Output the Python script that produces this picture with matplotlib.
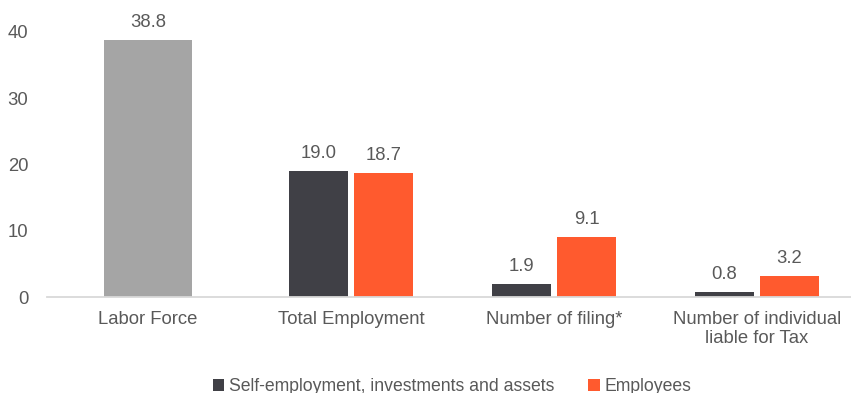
import matplotlib.pyplot as plt
import numpy as np

plt.rcParams["font.family"] = ["Liberation Sans", "DejaVu Sans"]

# Data (millions of people)
categories = ["Labor Force", "Total Employment", "Number of filing*",
              "Number of individual\nliable for Tax"]
labor_force = [38.8]
self_employed = [19.0, 1.9, 0.8]
employees = [18.7, 9.1, 3.2]

GRAY = "#A5A5A5"
DARK = "#404046"
ORANGE = "#FF5A2E"
TEXT = "#595959"
FS = 13.3

fig = plt.figure(figsize=(8.51, 3.93), dpi=100)
ax = fig.add_axes([46.5 / 851, 96 / 393, 812 / 851, 265 / 393])

x = np.arange(len(categories))

# Labor force has a single bar, the others are split in two
lf = ax.bar(x[:1], labor_force, width=0.433, color=GRAY)
se = ax.bar(x[1:] - 0.16, self_employed, width=0.29, color=DARK,
            label="Self-employment, investments and assets")
em = ax.bar(x[1:] + 0.16, employees, width=0.29, color=ORANGE,
            label="Employees")

for bars in (lf, se, em):
    for b in bars:
        ax.annotate(f"{b.get_height():.1f}",
                    (b.get_x() + b.get_width() / 2, b.get_height()),
                    xytext=(0, 6.5), textcoords="offset points",
                    ha="center", va="bottom", fontsize=FS, color=TEXT)

ax.set_xlim(-0.5, 3.5)
ax.set_ylim(0, 40)
ax.set_yticks([0, 10, 20, 30, 40])
ax.set_xticks(x)
ax.set_xticklabels(categories)
ax.tick_params(axis="both", length=0, labelsize=FS, labelcolor=TEXT)
ax.tick_params(axis="y", pad=13)
ax.tick_params(axis="x", pad=10)

for side in ("top", "right", "left"):
    ax.spines[side].set_visible(False)
ax.spines["bottom"].set_color("#D9D9D9")
ax.spines["bottom"].set_linewidth(1.3)

fig.legend(handles=[se, em], loc="lower center",
           bbox_to_anchor=(0.531, -0.045), ncol=2, frameon=False,
           fontsize=12.7, labelcolor=TEXT, handlelength=0.65,
           handleheight=0.65, handletextpad=0.25, columnspacing=1.95)

fig.savefig("out.png", dpi=100)
